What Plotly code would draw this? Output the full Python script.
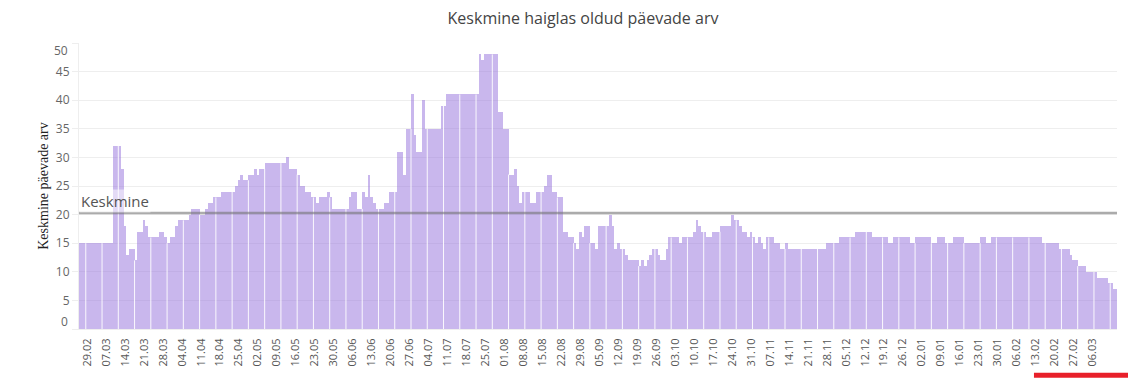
import datetime as dt
import plotly.graph_objects as go

# ---- data ----
first_day = dt.date(2020, 2, 26)

values = [
    15, 15, 15, 15, 15, 15, 15, 15, 15, 15,
    15, 15, 15, 32, 32, 32, 28, 18, 13, 14,
    14, 12, 17, 17, 19, 18, 16, 16, 16, 16,
    17, 17, 16, 15, 16, 16, 18, 19, 19, 19,
    19, 20, 21, 21, 21, 20, 20, 21, 22, 22,
    23, 23, 23, 24, 24, 24, 24, 24, 25, 26,
    27, 26, 26, 27, 27, 28, 27, 28, 28, 29,
    29, 29, 29, 29, 29, 29, 29, 30, 28, 28,
    28, 27, 25, 25, 24, 24, 23, 23, 22, 23,
    23, 23, 24, 23, 21, 21, 21, 21, 21, 21,
    23, 24, 24, 21, 21, 24, 23, 27, 23, 22,
    21, 21, 21, 22, 22, 24, 24, 24, 31, 31,
    27, 35, 35, 41, 34, 31, 31, 40, 35, 35,
    35, 35, 35, 35, 39, 39, 41, 41, 41, 41,
    41, 41, 41, 41, 41, 41, 41, 41, 48, 47,
    48, 48, 48, 48, 48, 38, 38, 35, 35, 27,
    27, 28, 25, 22, 24, 24, 24, 22, 22, 24,
    24, 24, 25, 27, 27, 24, 24, 23, 23, 17,
    17, 16, 16, 15, 14, 17, 16, 18, 18, 15,
    15, 14, 18, 18, 18, 18, 20, 18, 14, 15,
    14, 14, 13, 12, 12, 12, 12, 11, 12, 11,
    12, 13, 14, 14, 13, 12, 12, 14, 16, 16,
    16, 16, 15, 16, 16, 16, 16, 17, 19, 18,
    17, 17, 16, 16, 17, 17, 17, 18, 18, 18,
    18, 20, 19, 19, 18, 17, 17, 16, 17, 16,
    15, 16, 15, 14, 16, 16, 16, 15, 15, 14,
    14, 15, 14, 14, 14, 14, 14, 14, 14, 14,
    14, 14, 14, 14, 14, 14, 15, 15, 15, 15,
    15, 16, 16, 16, 16, 16, 16, 17, 17, 17,
    17, 17, 17, 16, 16, 16, 16, 16, 16, 15,
    15, 16, 16, 16, 16, 16, 16, 15, 15, 16,
    16, 16, 16, 16, 16, 15, 15, 16, 16, 16,
    15, 15, 15, 16, 16, 16, 16, 15, 15, 15,
    15, 15, 15, 16, 16, 15, 15, 16, 16, 16,
    16, 16, 16, 16, 16, 16, 16, 16, 16, 16,
    16, 16, 16, 16, 16, 16, 15, 15, 15, 15,
    15, 15, 14, 14, 14, 14, 13, 12, 12, 11,
    11, 11, 10, 10, 10, 10, 9, 9, 9, 9,
    8, 8, 7, 7,
]

keskmine = 20.3          # average line
y_ticks = [0, 5, 10, 15, 20, 25, 30, 35, 40, 45, 50]
first_tick = dt.date(2020, 2, 29)   # first x label (29.02)
last_tick = dt.date(2021, 3, 6)     # last x label (06.03)

title_text = "Keskmine haiglas oldud päevade arv"
y_title = "Keskmine päevade arv"
avg_label = "Keskmine"

# ---- derived categories ----
dates = [first_day + dt.timedelta(days=i) for i in range(len(values))]
tick_dates = [d for d in dates[dates.index(first_tick)::7] if d <= last_tick]
tick_text = [d.strftime("%d.%m") for d in tick_dates]

fig = go.Figure()
fig.add_trace(go.Bar(
    x=dates, y=values,
    marker=dict(color="rgba(147,112,219,0.5)", line=dict(width=0)),
    hoverinfo="x+y",
))

shapes = []
# faint white separators seen inside the bars every six days
for i in range(3, len(values), 6):
    xb = dt.datetime.combine(dates[i], dt.time()) - dt.timedelta(hours=12)
    shapes.append(dict(
        type="line", xref="x", yref="y", x0=xb, x1=xb,
        y0=0, y1=min(values[i - 1], values[i]),
        line=dict(color="rgba(255,255,255,0.9)", width=1), layer="above",
    ))
# average line
shapes.append(dict(
    type="line", xref="paper", yref="y", x0=0, x1=1,
    y0=keskmine, y1=keskmine,
    line=dict(color="rgba(115,115,115,0.6)", width=2.5), layer="above",
))
# red highlight underline below the last labels
shapes.append(dict(
    type="line", xref="paper", yref="paper", x0=0.92, x1=1.011,
    y0=-0.162, y1=-0.162,
    line=dict(color="#e8202a", width=5), layer="above",
))

tick_font = dict(family="Open Sans, sans-serif", size=12, color="#666")

annotations = [
    dict(text=avg_label, xref="paper", yref="y", x=0, y=keskmine,
         xanchor="left", yanchor="bottom", showarrow=False,
         font=dict(family="Open Sans, sans-serif", size=15, color="#555"),
         bgcolor="rgba(255,255,255,0.5)", borderpad=1),
    dict(text=str(y_ticks[0]), xref="paper", yref="y", x=0, y=y_ticks[0],
         xanchor="right", yanchor="middle", xshift=-9, yshift=8,
         showarrow=False, font=tick_font),
    dict(text=str(y_ticks[-1]), xref="paper", yref="y", x=0, y=y_ticks[-1],
         xanchor="right", yanchor="middle", xshift=-9, yshift=-7,
         showarrow=False, font=tick_font),
]

# the page body adds an 8px offset; the figure is sized to fit the window
fig.update_layout(
    width=1120, height=370,
    margin=dict(l=71, r=11, t=35, b=49),
    paper_bgcolor="white", plot_bgcolor="white",
    bargap=0,
    showlegend=False,
    title=dict(text=title_text, x=575 / 1120, xanchor="center",
               y=1 - 10 / 370, yanchor="middle", yref="container",
               font=dict(family="Open Sans, sans-serif", size=16, color="#444")),
    shapes=shapes,
    annotations=annotations,
    xaxis=dict(
        range=[dates[0], dates[-1]],
        tickmode="array", tickvals=tick_dates, ticktext=tick_text,
        tickangle=-90, tickfont=dict(family="Open Sans, sans-serif", size=11, color="#555"),
        showgrid=False, showline=True, linecolor="#eeeeee",
        ticks="outside", ticklen=4, tickcolor="rgba(0,0,0,0)",
        zeroline=False,
    ),
    yaxis=dict(
        range=[0, 50],
        tickmode="array", tickvals=y_ticks,
        ticktext=[""] + [str(v) for v in y_ticks[1:-1]] + [""],
        tickfont=tick_font,
        showgrid=True, gridcolor="#eeeeee", gridwidth=1,
        ticks="outside", ticklen=6, tickcolor="#eeeeee",
        showline=True, linecolor="#eeeeee", zeroline=False,
        title=dict(text=y_title, standoff=3,
                   font=dict(family="Liberation Serif, serif", size=14, color="#222")),
    ),
)

fig.write_html("out.html")
